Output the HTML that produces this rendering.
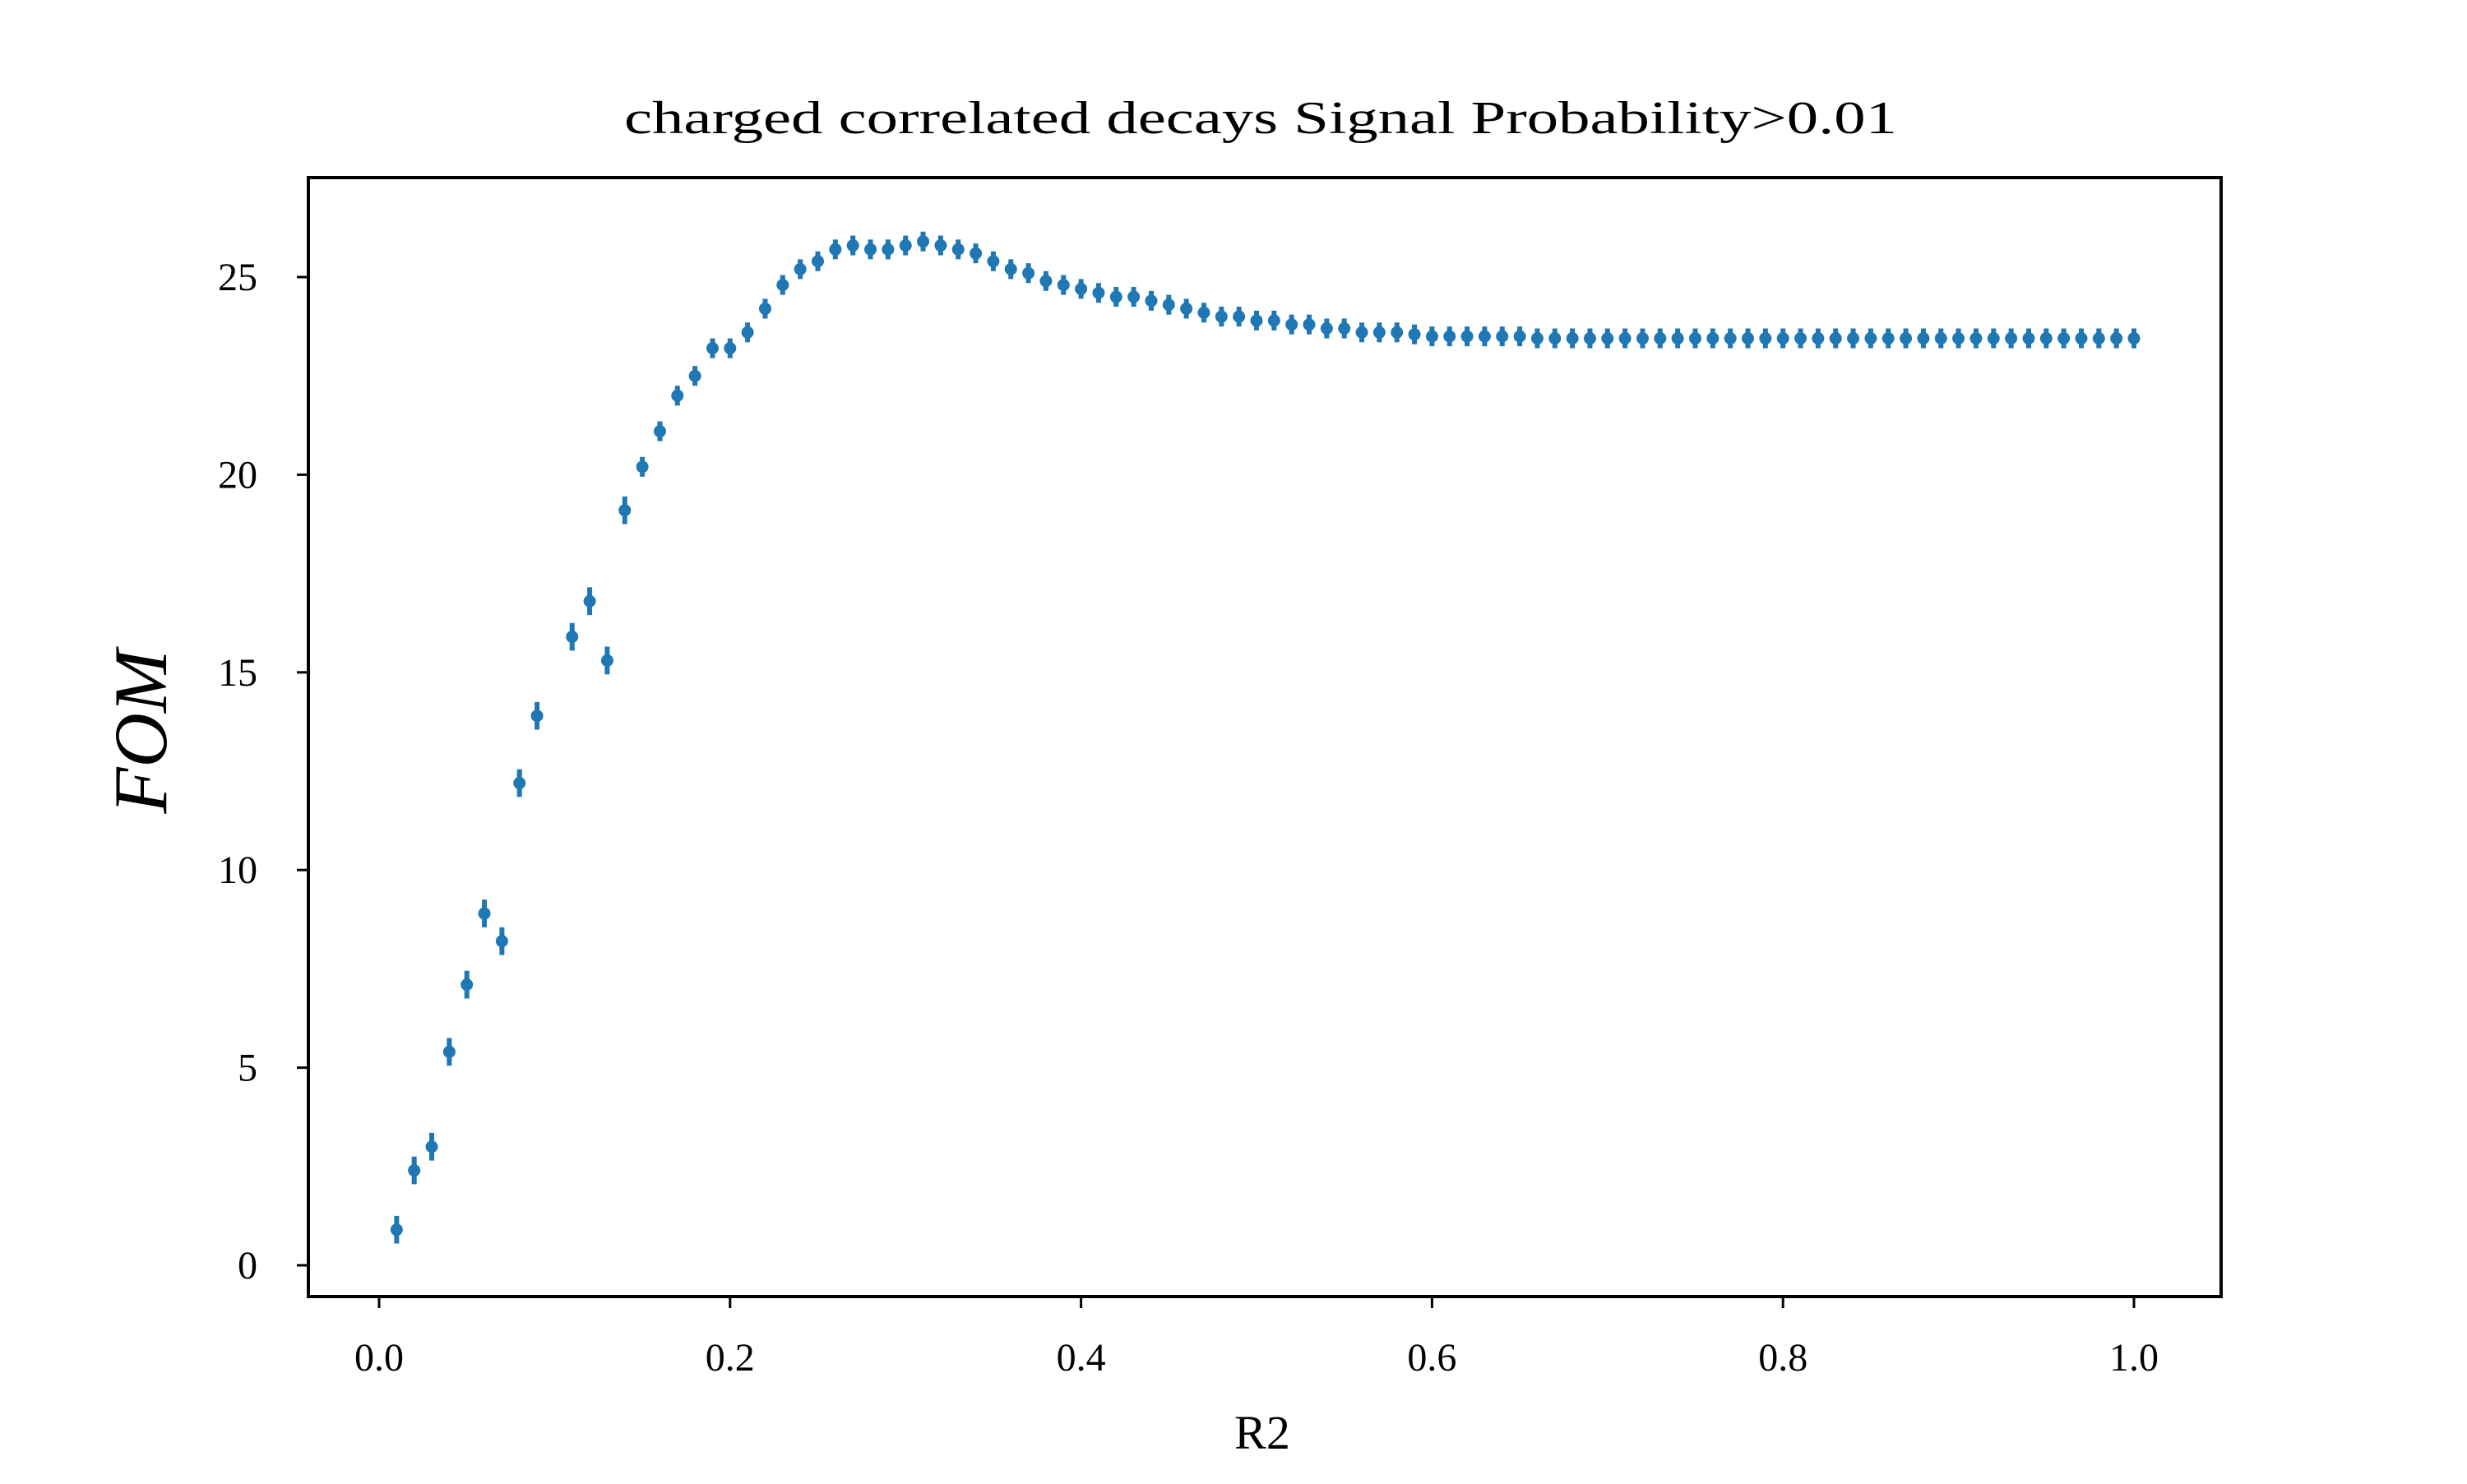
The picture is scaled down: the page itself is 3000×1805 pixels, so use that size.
<!DOCTYPE html>
<html><head><meta charset="utf-8"><style>html,body{margin:0;padding:0;background:#fff}</style></head>
<body>
<svg id="chart" width="3000" height="1800" viewBox="0 0 3000 1800" xmlns="http://www.w3.org/2000/svg" font-family="Liberation Serif, serif">
<rect width="3000" height="1800" fill="#fff"/>
<g id="plot"></g>
</svg>
<script>
const xValues = [];
for (let i = 1; i <= 100; i++) xValues.push(i / 100);
const fomValues = [0.9,2.4,3.0,5.4,7.1,8.9,8.2,12.2,13.9,null,
15.9,16.8,15.3,19.1,20.2,21.1,22.0,22.5,23.2,23.2,
23.6,24.2,24.8,25.2,25.4,25.7,25.8,25.7,25.7,25.8,
25.9,25.8,25.7,25.6,25.4,25.2,25.1,24.9,24.8,24.7,
24.6,24.5,24.5,24.4,24.3,24.2,24.1,24.0,24.0,23.9,
23.9,23.8,23.8,23.7,23.7,23.6,23.6,23.6,23.55,23.5,
23.5,23.5,23.5,23.5,23.5,23.45,23.45,23.45,23.45,23.45,
23.45,23.45,23.45,23.45,23.45,23.45,23.45,23.45,23.45,23.45,
23.45,23.45,23.45,23.45,23.45,23.45,23.45,23.45,23.45,23.45,
23.45,23.45,23.45,23.45,23.45,23.45,23.45,23.45,23.45,23.45];
const fomErrors = fomValues.map(v => v === null ? 0 : (v < 20 ? 0.35 : 0.25));
const xTicks = [0,0.2,0.4,0.6,0.8,1.0];
const xTickLabels = ["0.0","0.2","0.4","0.6","0.8","1.0"];
const yTicks = [0,5,10,15,20,25];
const yTickLabels = ["0","5","10","15","20","25"];

const L=375,R=2701,T=216,B=1577;
const sx = v => 461 + v*(2595-461);
const sy = v => 1539 - v*(1539-337)/25;
const NS="http://www.w3.org/2000/svg";
const g=document.getElementById('plot');
function mk(tag,attrs,parent){const e=document.createElementNS(NS,tag);for(const k in attrs)e.setAttribute(k,attrs[k]);(parent||g).appendChild(e);return e;}

const title=mk('text',{x:1533,y:162,'text-anchor':'middle','font-size':56,textLength:1548,lengthAdjust:'spacingAndGlyphs'});
title.textContent='charged correlated decays Signal Probability>0.01';



const pts=mk('g',{fill:'#1f77b4',stroke:'#1f77b4'});


xValues.forEach((x,i)=>{
  const v=fomValues[i]; if(v===null) return;
  const e=fomErrors[i];
  const bar=mk('line',{x1:sx(x),x2:sx(x),y1:sy(v-e),y2:sy(v+e),'stroke-width':6},pts);
  
  
  const c=mk('circle',{cx:sx(x),cy:sy(v),r:7.5,stroke:'none'},pts);
  
  
});

const frame=mk('rect',{x:L,y:T,width:R-L,height:B-T,fill:'none',stroke:'#000','stroke-width':4});



xTicks.forEach((t,i)=>{
  const tk=mk('line',{x1:sx(t),x2:sx(t),y1:B,y2:B+14,stroke:'#000','stroke-width':3});
  
  
  const lb=mk('text',{x:sx(t),y:1667,'text-anchor':'middle','font-size':48});
  lb.textContent=xTickLabels[i];
  
  
});
yTicks.forEach((t,i)=>{
  const tk=mk('line',{x1:L-14,x2:L,y1:sy(t),y2:sy(t),stroke:'#000','stroke-width':3});
  
  
  const lb=mk('text',{x:313,y:sy(t)+16,'text-anchor':'end','font-size':48});
  lb.textContent=yTickLabels[i];
  
  
});
const xl=mk('text',{x:1535,y:1762,'text-anchor':'middle','font-size':58});
xl.textContent='R2';


const yl=mk('text',{x:0,y:0,'text-anchor':'middle','font-size':92,'font-style':'italic',transform:'translate(202,890) rotate(-90)'});
yl.textContent='FOM';


</script>
</body></html>
